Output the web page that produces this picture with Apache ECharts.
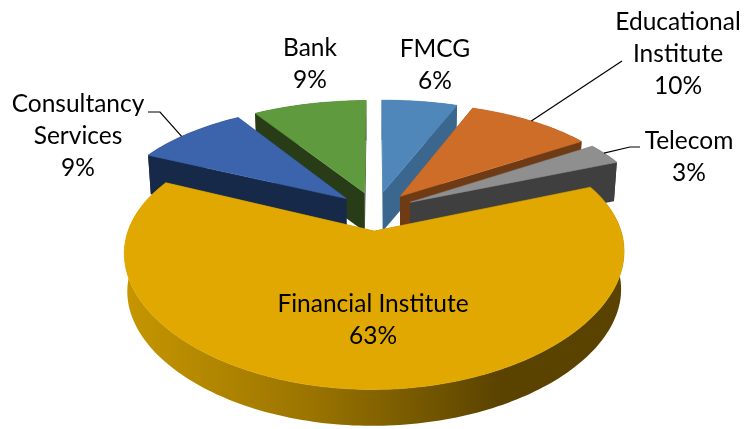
<!DOCTYPE html>
<html>
<head>
<meta charset="utf-8">
<style>
  html, body { margin: 0; padding: 0; background: #fff; }
  #pie3d { width: 745px; height: 429px; }
</style>
</head>
<body>
<div id="pie3d"></div>
<script src="https://cdn.jsdelivr.net/npm/echarts@6/dist/echarts.min.js"></script>
<script>
  // chart data, clockwise from 12 o'clock
  const categories = ['FMCG', 'Educational\nInstitute', 'Telecom', 'Financial Institute', 'Consultancy\nServices', 'Bank'];
  const values = [6, 10, 3, 63, 9, 9];
  const topColors = ['#4F87BA', '#CE6D28', '#8F8F8F', '#E0A800', '#3C64AC', '#5F9A3E'];
  const wallColors = ['#3B678F', '#6F3B14', '#3F3F3F', '#5C4500', '#172948', '#283C18'];

  // back slices first so the nearer ones paint over them
  const drawOrder = [5, 0, 4, 1, 2, 3];

  // fake perspective of the disc
  const cx = 375.5, cy = 211, rx = 240, ry = 117.5, perspX = 0.16, perspY = 0.2, tilt = 0.004, explode = 0.165;
  const lowScale = 0.988, lowDrop = 38.5;

  // label centres and leader lines
  const labelPos = [[435, 65], [678, 54], [689, 157], [373, 320], [78, 136], [310, 64]];
  const leaderArc = [null, 0.5, 0.45, null, 0.42, null];
  const leaderPts = [null, [[622, 61]], [[630, 147], [640, 147]], null, [[160, 112], [148, 112]], null];

  const total = values.reduce((a, b) => a + b, 0);
  const starts = [];
  values.reduce((acc, v, i) => { starts[i] = acc; return acc + v; }, 0);

  function project(x, z, low) {
    const sx = x * rx / (1 + perspX * z);
    const sy = -z * ry / (1 + perspY * z) - tilt * sx;
    return low ? [cx + sx * lowScale, cy + sy * lowScale + lowDrop] : [cx + sx, cy + sy];
  }

  function sliceAngles(i) {
    const a0 = starts[i] / total * Math.PI * 2;
    const a1 = (starts[i] + values[i]) / total * Math.PI * 2;
    return [a0, a1, (a0 + a1) / 2];
  }

  function arcPoint(i, a, low) {
    const mid = sliceAngles(i)[2];
    return project(Math.sin(a) + explode * Math.sin(mid), Math.cos(a) + explode * Math.cos(mid), low);
  }

  function apexPoint(i, low) {
    const mid = sliceAngles(i)[2];
    return project(explode * Math.sin(mid), explode * Math.cos(mid), low);
  }

  function arcPoints(i, low) {
    const [a0, a1] = sliceAngles(i);
    const n = Math.max(4, Math.round((a1 - a0) / 0.02));
    const pts = [];
    for (let k = 0; k <= n; k++) pts.push(arcPoint(i, a0 + (a1 - a0) * k / n, low));
    return pts;
  }

  const goldWall = new echarts.graphic.LinearGradient(125, 0, 500, 0, [
    { offset: 0, color: '#C69600' },
    { offset: 0.5, color: '#9A7400' },
    { offset: 1, color: '#5A4300' }
  ], true);

  function wallPoly(points, fill) {
    return { type: 'polygon', shape: { points: points }, style: { fill: fill } };
  }

  function renderSlice(params, api) {
    const i = api.value(0);
    const [a0, a1] = sliceAngles(i);
    const wall = i === 3 ? goldWall : wallColors[i];
    const top = arcPoints(i, false), low = arcPoints(i, true);
    const apex = apexPoint(i, false), apexLow = apexPoint(i, true);
    return {
      type: 'group',
      children: [
        wallPoly([apex, arcPoint(i, a0, false), arcPoint(i, a0, true), apexLow], wall),
        wallPoly([apex, arcPoint(i, a1, false), arcPoint(i, a1, true), apexLow], wall),
        wallPoly(top.concat(low.slice().reverse()), wall),
        { type: 'polygon', shape: { points: [apex].concat(top) }, style: { fill: topColors[i], stroke: topColors[i], lineWidth: 0.6 } }
      ]
    };
  }

  function renderLabel(params, api) {
    const i = api.value(0);
    const children = [];
    if (leaderArc[i] !== null) {
      const [a0, a1] = sliceAngles(i);
      children.push({
        type: 'polyline',
        shape: { points: [arcPoint(i, a0 + (a1 - a0) * leaderArc[i], false)].concat(leaderPts[i]) },
        style: { stroke: '#000', lineWidth: 1.2, fill: null }
      });
    }
    children.push({
      type: 'text',
      x: labelPos[i][0],
      y: labelPos[i][1],
      style: {
        text: categories[i] + '\n' + values[i] + '%',
        fill: '#000',
        font: '24.5px Lato',
        lineHeight: 32,
        align: 'center',
        verticalAlign: 'middle'
      }
    });
    return { type: 'group', children: children };
  }

  const chart = echarts.init(document.getElementById('pie3d'));
  chart.setOption({
    animation: false,
    backgroundColor: '#fff',
    series: [
      { type: 'custom', coordinateSystem: 'none', silent: true, z: 2, renderItem: renderSlice, data: drawOrder.map(i => [i]) },
      { type: 'custom', coordinateSystem: 'none', silent: true, z: 3, renderItem: renderLabel, data: categories.map((c, i) => [i]) }
    ]
  });
</script>
</body>
</html>
